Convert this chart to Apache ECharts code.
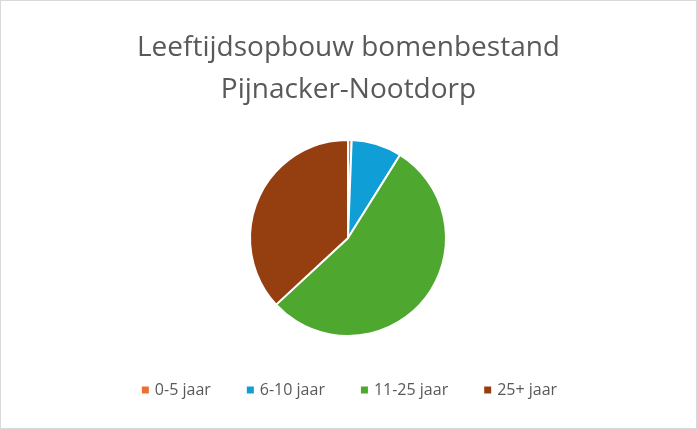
<!DOCTYPE html>
<html><head><meta charset="utf-8">
<script src="https://cdn.jsdelivr.net/npm/echarts@6/dist/echarts.min.js"></script>
<style>html,body{margin:0;padding:0;background:#fff}#c{width:697px;height:429px}</style>
</head><body><div id="c"></div>
<script>
const categories = ['0-5 jaar','6-10 jaar','11-25 jaar','25+ jaar'];
const values = [0.6, 8.3, 54.2, 36.9];
const colors = ['#E97132','#0F9ED5','#4EA72E','#953F10'];
const chart = echarts.init(document.getElementById('c'));
chart.setOption({
  title:{text:'Leeftijdsopbouw bomenbestand\nPijnacker-Nootdorp',left:'center',top:22,
    textStyle:{fontFamily:'Open Sans, sans-serif',fontSize:28,fontWeight:'normal',color:'#595959',lineHeight:42}},
  legend:{bottom:26,left:'center',itemWidth:9,itemHeight:9,itemGap:34,icon:'rect',
    textStyle:{fontFamily:'Open Sans, sans-serif',fontSize:16,color:'#595959'}},
  color:colors,
  series:[{type:'pie',radius:98,center:[348,238],startAngle:90,clockwise:true,
    label:{show:false},labelLine:{show:false},
    itemStyle:{borderColor:'#fff',borderWidth:2},
    data:categories.map((n,i)=>({name:n,value:values[i]}))}]
});
</script>
<div style="position:absolute;left:0;top:0;width:695px;height:427px;border:1px solid #d9d9d9;pointer-events:none"></div>
</body></html>
